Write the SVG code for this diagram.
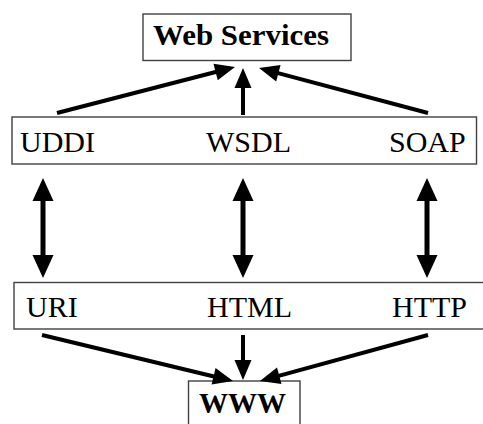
<svg xmlns="http://www.w3.org/2000/svg" width="483" height="424" viewBox="0 0 483 424">
<style>
.box{fill:#fff;stroke:#404040;stroke-width:1.4}
.t{font-family:"Liberation Serif","Times New Roman",serif;font-size:30px;fill:#000}
.b{font-weight:bold}
.c{stroke:#000;fill:none}
.thin{stroke-width:4;marker-end:url(#ah)}
.thick{stroke-width:5;marker-start:url(#ahb);marker-end:url(#ahb)}
</style>
<defs>
<marker id="ah" markerUnits="userSpaceOnUse" markerWidth="20" markerHeight="18" refX="10" refY="8.5" orient="auto" overflow="visible">
<path d="M0,0 L20,8.5 L0,17 z" fill="#000"/>
</marker>
<marker id="ahb" markerUnits="userSpaceOnUse" markerWidth="23" markerHeight="21" refX="13" refY="10.5" orient="auto-start-reverse" overflow="visible">
<path d="M0,0 L23,10.5 L0,21 z" fill="#000"/>
</marker>
</defs>
<rect width="483" height="424" fill="#fff"/>
<g id="web-services">
<rect class="box" x="143" y="14" width="208" height="46.5"/>
<text class="t b" x="153" y="45" textLength="176" lengthAdjust="spacingAndGlyphs">Web Services</text>
</g>
<g id="ws-layer">
<rect class="box" x="12" y="117" width="464.5" height="47"/>
<text class="t" x="20" y="152">UDDI</text>
<text class="t" x="206" y="152">WSDL</text>
<text class="t" x="389" y="152">SOAP</text>
</g>
<g id="web-layer">
<rect class="box" x="14" y="282.5" width="475" height="46.5"/>
<text class="t" x="26" y="317">URI</text>
<text class="t" x="207" y="317">HTML</text>
<text class="t" x="392" y="317">HTTP</text>
</g>
<g id="www">
<rect class="box" x="188.5" y="381" width="111.5" height="50"/>
<text class="t b" x="199" y="413" textLength="87" lengthAdjust="spacingAndGlyphs">WWW</text>
</g>
<g id="connectors">
<line class="c thin" x1="57" y1="113" x2="225.3" y2="69.5"/>
<line class="c thin" x1="243" y1="115" x2="243" y2="78"/>
<line class="c thin" x1="428" y1="113" x2="268.7" y2="70.6"/>
<line class="c thick" x1="43" y1="188" x2="43" y2="268"/>
<line class="c thick" x1="243" y1="188" x2="243" y2="268"/>
<line class="c thick" x1="427" y1="188" x2="427" y2="268"/>
<line class="c thin" x1="42" y1="335" x2="223.3" y2="378.7"/>
<line class="c thin" x1="243" y1="335" x2="243" y2="370"/>
<line class="c thin" x1="428" y1="335" x2="269.6" y2="378.4"/>
</g>
</svg>
